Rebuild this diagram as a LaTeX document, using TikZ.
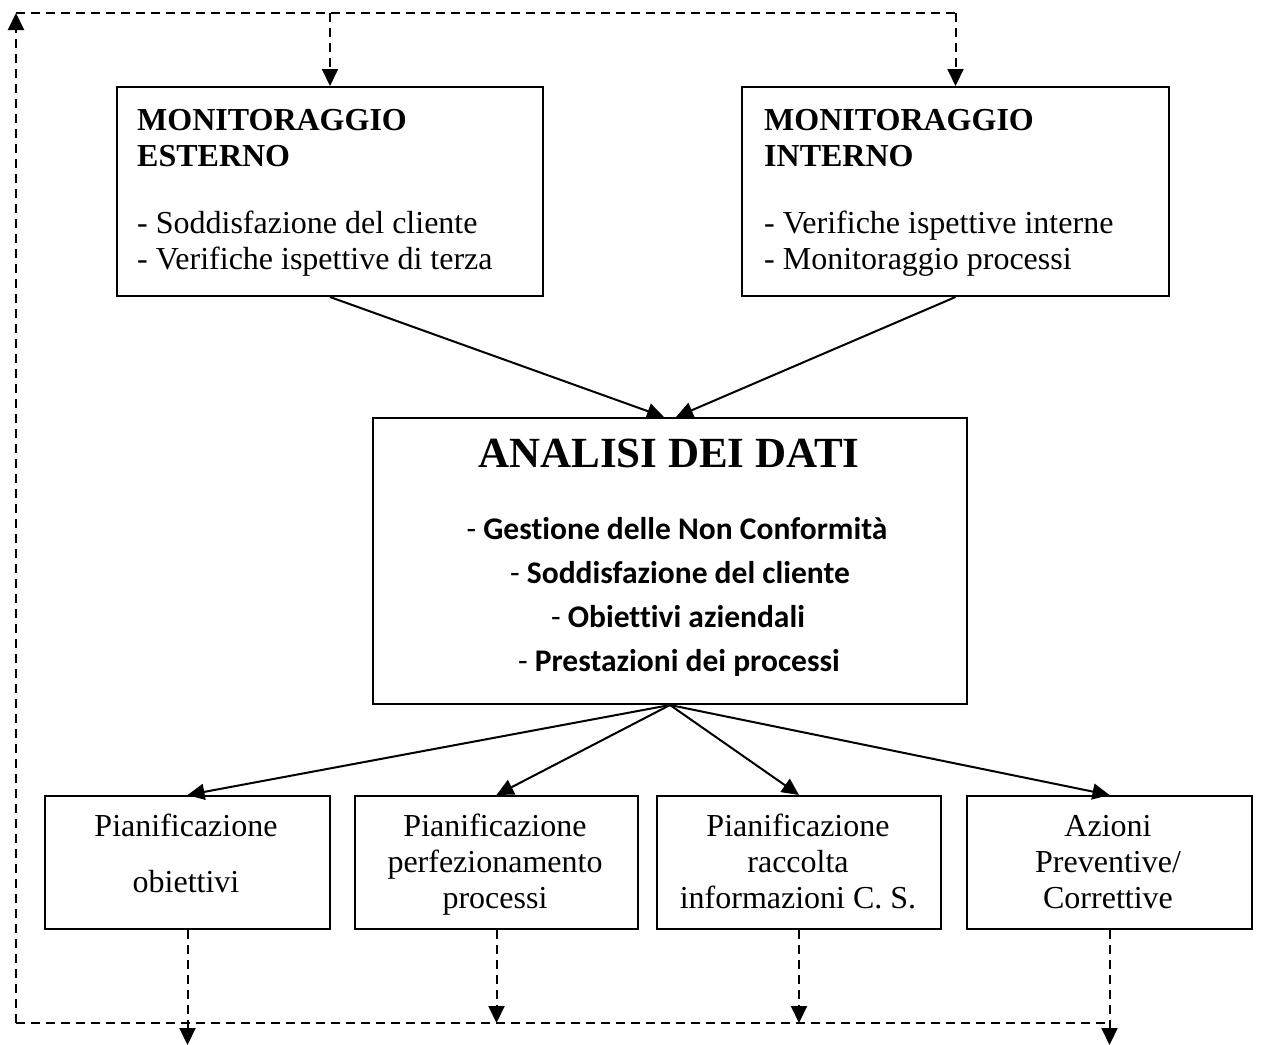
\documentclass[tikz,border=0pt]{standalone}
\usepackage{fontspec}
\setmainfont{Liberation Serif}
\newfontfamily\calib[Ligatures=NoCommon]{Carlito}
\usetikzlibrary{arrows.meta}
\begin{document}
\begin{tikzpicture}[x=1pt,y=-1pt,
  box/.style={draw, line width=2pt, rectangle, inner sep=0pt, anchor=north west},
  arr/.style={-{Triangle[width=16pt,length=17pt]}, line width=2pt},
  dar/.style={arr, dash pattern=on 9pt off 6pt},
  dln/.style={line width=2pt, dash pattern=on 9pt off 6pt},
  hd/.style={font=\fontsize{32}{36}\selectfont\bfseries, inner sep=0pt},
  tx/.style={font=\fontsize{32}{36}\selectfont, inner sep=0pt},
  ln/.style={font=\calib\fontsize{31.5}{36}\selectfont, inner sep=0pt, anchor=base},
  bt/.style={font=\fontsize{32}{36}\selectfont, inner sep=0pt, anchor=base}
]
\fill[white] (0,0) rectangle (1273,1044);
\useasboundingbox (0,0) rectangle (1273,1044);

% top boxes
\node[box, minimum width=426pt, minimum height=209pt] (me) at (116,86) {};
\node[box, minimum width=427pt, minimum height=209pt] (mi) at (741,86) {};
\node[hd, anchor=base west] (me1) at (137,130) {MONITORAGGIO};
\node[hd, anchor=base west] (me2) at (137,166) {ESTERNO};
\node[tx, anchor=base west] (me3) at (137,233) {- Soddisfazione del cliente};
\node[tx, anchor=base west] (me4) at (137,269) {- Verifiche ispettive di terza};
\node[hd, anchor=base west] (mi1) at (764,130) {MONITORAGGIO};
\node[hd, anchor=base west] (mi2) at (764,166) {INTERNO};
\node[tx, anchor=base west] (mi3) at (764,233) {- Verifiche ispettive interne};
\node[tx, anchor=base west] (mi4) at (764,269) {- Monitoraggio processi};

% analisi box
\node[box, minimum width=594pt, minimum height=286pt] (an) at (372,417) {};
\node[inner sep=0pt, anchor=base, font=\fontsize{43}{50}\selectfont\bfseries] (ant) at (669,467) {ANALISI DEI DATI};
\node[ln] (a1) at (677,539) {- \textbf{Gestione delle Non Conformità}};
\node[ln] (a2) at (680,583) {- \textbf{Soddisfazione del cliente}};
\node[ln] (a3) at (678,627) {- \textbf{Obiettivi aziendali}};
\node[ln] (a4) at (679,671) {- \textbf{Prestazioni dei processi}};

% bottom boxes
\node[box, minimum width=285pt, minimum height=133pt] (p1) at (44,795) {};
\node[box, minimum width=283pt, minimum height=133pt] (p2) at (354,795) {};
\node[box, minimum width=284pt, minimum height=133pt] (p3) at (656,795) {};
\node[box, minimum width=285pt, minimum height=133pt] (p4) at (966,795) {};
\node[bt] (t11) at (186,836) {Pianificazione};
\node[bt] (t12) at (186,892) {obiettivi};
\node[bt] (t21) at (495,836) {Pianificazione};
\node[bt] (t22) at (495,872) {perfezionamento};
\node[bt] (t23) at (495,908) {processi};
\node[bt] (t31) at (798,836) {Pianificazione};
\node[bt] (t32) at (798,872) {raccolta};
\node[bt] (t33) at (798,908) {informazioni C. S.};
\node[bt] (t41) at (1108,836) {Azioni};
\node[bt] (t42) at (1108,872) {Preventive/};
\node[bt] (t43) at (1108,908) {Correttive};

% solid arrows
\draw[arr] (me.south) -- ([xshift=-6pt]an.north);
\draw[arr] (mi.south) -- ([xshift=6pt]an.north);
\draw[arr] (an.south) -- (p1.north);
\draw[arr] (an.south) -- (p2.north);
\draw[arr] (an.south) -- (p3.north);
\draw[arr] (an.south) -- (p4.north);

% feedback loop
\coordinate (tl) at (16,13);
\coordinate (bl) at (16,1023);
\coordinate (tr) at (mi.north |- tl);
\coordinate (br) at (p4.south |- bl);
\draw[dar] (bl) -- (tl);
\draw[dln] (tl) -- (tr);
\draw[dln] (bl) -- (br);
\draw[dar] (me.north |- tl) -- (me.north);
\draw[dar] (tr) -- (mi.north);
\coordinate (e1) at ([yshift=-115pt]p1.south);
\coordinate (e4) at ([yshift=-115pt]p4.south);
\draw[dar] (p1.south) -- (e1);
\draw[dar] (p2.south) -- (p2.south |- bl);
\draw[dar] (p3.south) -- (p3.south |- bl);
\draw[dar] (p4.south) -- (e4);
\end{tikzpicture}
\end{document}
